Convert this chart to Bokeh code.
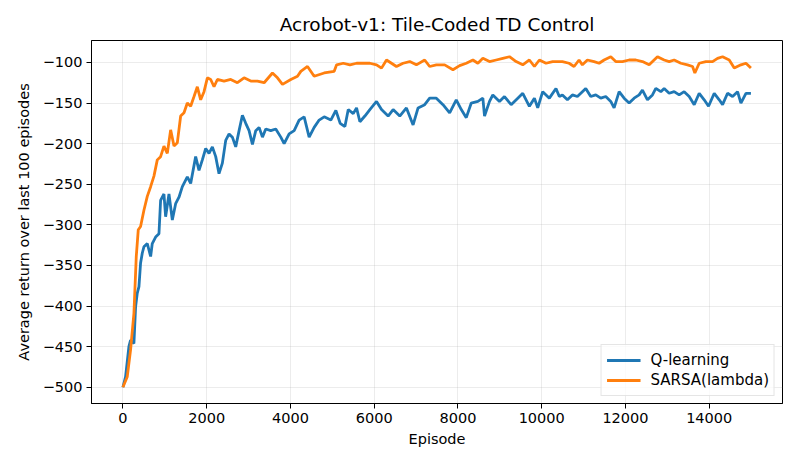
from bokeh.plotting import figure
from bokeh.models import Range1d, FixedTicker, CustomJSTickFormatter
from bokeh.embed import file_html
from bokeh.resources import INLINE

# Q-learning: episode / average return over last 100 episodes
q_episodes = [0, 64, 143, 183, 263, 303, 343, 383, 422, 462,
              502, 582, 662, 701, 781, 861, 900, 980, 1020, 1100,
              1180, 1259, 1339, 1419, 1538, 1618, 1737, 1817, 1897, 1977,
              2056, 2136, 2216, 2295, 2375, 2455, 2535, 2614, 2694, 2774,
              2853, 2933, 3013, 3093, 3172, 3252, 3332, 3411, 3531, 3650,
              3770, 3850, 3969, 4089, 4208, 4328, 4447, 4567, 4686, 4806,
              4965, 5085, 5188,
              5301, 5381, 5500, 5579, 5659, 5778, 5897, 6056, 6175, 6333,
              6452, 6611, 6770, 6929, 7048, 7206, 7325, 7484, 7643, 7802,
              7960, 8080, 8199, 8318, 8476, 8595, 8635, 8754, 8833, 8992,
              9111, 9270, 9429, 9548, 9706, 9826, 9905, 10024, 10183, 10341,
              10421,
              10494, 10614, 10733, 10852, 10972, 11052, 11171, 11291, 11410, 11530,
              11649, 11729, 11849, 11968, 12088, 12207, 12327, 12406, 12526, 12645,
              12725, 12845, 12924, 13044, 13163, 13283, 13402, 13522, 13642, 13761,
              13880, 13984, 14120, 14239, 14319, 14438, 14558, 14677, 14757, 14877,
              14996]
q_returns = [-500, -487, -450, -442, -446, -401, -384, -376, -347, -335,
             -327, -323, -339, -323, -315, -311, -270, -262, -290, -262,
             -294, -274, -266, -253, -241, -249, -216, -233, -220, -206,
             -212, -204, -216, -237, -224, -196, -188, -192, -204, -184,
             -165, -175, -184, -201, -184, -180, -192, -182, -184, -182,
             -192, -200, -188, -184, -171, -167, -192, -180, -171, -167,
             -171, -159, -175,
             -179, -158, -163, -156, -173, -166, -158, -148, -158, -166,
             -158, -166, -156, -177, -156, -152, -144, -144, -152, -162,
             -146, -158, -168, -150, -148, -144, -166, -148, -140, -148,
             -142, -152, -144, -138, -154, -144, -156, -136, -144, -132,
             -142,
             -140, -146, -140, -142, -136, -132, -142, -140, -144, -142,
             -148, -156, -136, -144, -150, -144, -140, -134, -146, -140,
             -132, -136, -132, -138, -136, -140, -136, -142, -152, -138,
             -146, -154, -138, -146, -152, -138, -142, -136, -150, -138,
             -138]

# SARSA(lambda)
s_episodes = [0, 104, 183, 263, 319, 367, 422, 502, 582, 662,
              741, 821, 900, 980, 1060, 1140, 1220, 1299, 1379, 1459,
              1538, 1618, 1698, 1777, 1857, 1937, 2017, 2096, 2176, 2256,
              2415, 2575, 2734, 2893, 3053, 3212, 3372, 3571, 3691, 3810,
              4009, 4169, 4248, 4408, 4567, 4806, 5045,
              5103, 5262, 5421, 5579, 5738, 5897, 6056, 6175, 6294, 6413,
              6532, 6690, 6849, 7008, 7206, 7325, 7484, 7683, 7881, 8040,
              8199, 8357, 8476, 8595, 8754, 8913, 9071, 9230, 9389, 9548,
              9706, 9826, 9945, 10103, 10262,
              10335, 10494, 10653, 10773, 10892, 10972, 11092, 11251, 11371, 11490,
              11649, 11769, 11928, 12088, 12247, 12406, 12566, 12765, 12924, 13044,
              13163, 13323, 13482, 13602, 13657, 13761, 13920, 14080, 14199, 14319,
              14478, 14598, 14757, 14877, 14996]
s_returns = [-500, -487, -454, -409, -339, -306, -302, -282, -265, -253,
             -240, -220, -216, -203, -212, -183, -203, -199, -166, -162,
             -150, -154, -142, -130, -146, -136, -119, -121, -130, -121,
             -123, -121, -125, -119, -123, -123, -125, -113, -119, -127,
             -121, -117, -111, -105, -117, -113, -111,
             -103, -101, -103, -101, -101, -101, -103, -107, -97, -101,
             -105, -101, -99, -103, -97, -105, -103, -103, -109, -104,
             -101, -97, -101, -95, -99, -97, -95, -93, -99, -103,
             -97, -105, -97, -101, -99,
             -99, -99, -101, -105, -97, -103, -97, -99, -101, -97,
             -93, -99, -99, -97, -97, -99, -103, -93, -97, -99,
             -97, -101, -103, -105, -113, -101, -99, -99, -95, -93,
             -97, -107, -103, -101, -107]

x_ticks = [0, 2000, 4000, 6000, 8000, 10000, 12000, 14000]
y_ticks = [-500, -450, -400, -350, -300, -250, -200, -150, -100]

FONT = "DejaVu Sans"

p = figure(width=784, height=451, output_backend="svg", toolbar_location=None,
           title="Acrobot-v1: Tile-Coded TD Control",
           x_range=Range1d(-750, 15750), y_range=Range1d(-520, -73),
           min_border_left=91, min_border_right=2,
           min_border_top=40, min_border_bottom=48)

p.title.align = "center"
p.title.text_font = FONT
p.title.text_font_size = "18.5px"
p.title.text_font_style = "normal"
p.title.text_color = "black"
p.title.offset = 0
p.title.standoff = 12

p.outline_line_color = "black"
p.outline_line_width = 1

minus = CustomJSTickFormatter(code="return tick.toString().replace('-', '\u2212');")
for ax in (p.xaxis[0], p.yaxis[0]):
    ax.major_label_text_font = FONT
    ax.major_label_text_font_size = "14.5px"
    ax.major_label_text_color = "black"
    ax.axis_label_text_font = FONT
    ax.axis_label_text_font_size = "14.5px"
    ax.axis_label_text_font_style = "normal"
    ax.axis_label_text_color = "black"
    ax.minor_tick_line_color = None
    ax.major_tick_out = 5
    ax.major_tick_in = 0
    ax.major_tick_line_color = "black"
    ax.axis_line_color = "black"
    ax.formatter = minus

p.xaxis.ticker = FixedTicker(ticks=x_ticks)
p.yaxis.ticker = FixedTicker(ticks=y_ticks)
p.xaxis.axis_label = "Episode"
p.yaxis.axis_label = "Average return over last 100 episodes"
p.xaxis.major_label_standoff = 4
p.yaxis.major_label_standoff = 4
p.xaxis.axis_label_standoff = 5
p.yaxis.axis_label_standoff = 8

p.grid.grid_line_color = "#b0b0b0"
p.grid.grid_line_alpha = 0.3
p.grid.grid_line_width = 0.8

p.line(q_episodes, q_returns, line_color="#1f77b4", line_width=2.8,
       legend_label="Q-learning")
p.line(s_episodes, s_returns, line_color="#ff7f0e", line_width=2.8,
       legend_label="SARSA(lambda)")

p.legend.location = "bottom_right"
p.legend.margin = 7
p.legend.padding = 5
p.legend.spacing = 0
p.legend.label_text_font = FONT
p.legend.label_text_font_size = "15px"
p.legend.label_text_color = "black"
p.legend.glyph_width = 34
p.legend.glyph_height = 20
p.legend.label_height = 20
p.legend.label_standoff = 10
p.legend.border_line_color = "#cccccc"
p.legend.background_fill_alpha = 0.8

open("out.html", "w").write(file_html(p, INLINE))
